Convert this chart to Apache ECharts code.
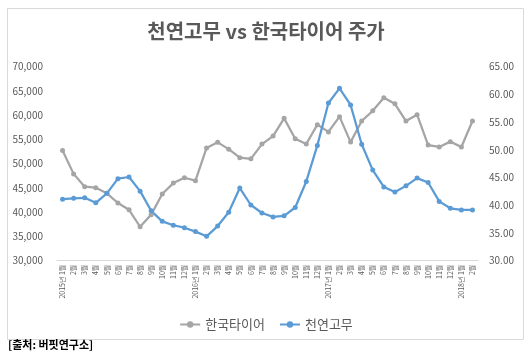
<!DOCTYPE html>
<html><head><meta charset="utf-8">
<script src="https://cdn.jsdelivr.net/npm/echarts@6/dist/echarts.min.js"></script>
<style>html,body{margin:0;padding:0;background:#fff}#c{width:532px;height:355px}</style>
</head><body><div id="c"></div>
<script>
var categories = ['2015년 1월','2월','3월','4월','5월','6월','7월','8월','9월','10월','11월','12월',
  '2016년 1월','2월','3월','4월','5월','6월','7월','8월','9월','10월','11월','12월',
  '2017년 1월','2월','3월','4월','5월','6월','7월','8월','9월','10월','11월','12월',
  '2018년 1월','2월'];
var hankookTire = [52700,47900,45250,45050,43900,41900,40500,37000,39500,43750,46000,47100,
  46500,53250,54400,53000,51250,51000,54050,55700,59350,55150,54050,58050,
  56550,59700,54450,58800,60900,63600,62350,58800,60100,53850,53450,54550,53450,58800];
var naturalRubber = [41.1,41.25,41.35,40.45,42.15,44.8,45.1,42.55,39.0,37.1,36.4,35.95,
  35.25,34.4,36.25,38.75,43.1,40.05,38.6,37.9,38.1,39.6,44.3,50.8,
  58.45,61.1,58.1,51.0,46.35,43.3,42.4,43.5,44.9,44.1,40.7,39.45,39.15,39.15];
var leftTicks = {min:30000, max:70000, interval:5000};
var rightTicks = {min:30, max:65, interval:5};

var font = '"Noto Sans CJK KR", "Noto Sans", sans-serif';
var chart = echarts.init(document.getElementById('c'), null, {renderer:'canvas'});
chart.setOption({
  animation:false,
  textStyle:{fontFamily:font},
  title:{text:'천연고무 vs 한국타이어 주가', left:'center', top:16,
    textStyle:{fontFamily:font, fontSize:20, fontWeight:'bold', color:'#595959'}},
  graphic:[
    {type:'rect', shape:{x:7.5,y:8.5,width:516,height:331}, style:{fill:'none', stroke:'#D9D9D9', lineWidth:1}, silent:true},
    {type:'text', left:8, top:339, style:{text:'[출처: 버핏연구소]', font:'bold 11px '+font, fill:'#000'}}
  ],
  legend:{data:['한국타이어','천연고무'], left:'center', top:313, itemWidth:20, itemHeight:8, itemGap:14,
    textStyle:{fontFamily:font, fontSize:13, color:'#595959'}},
  grid:{left:57, right:54, top:66.7, bottom:94.3, containLabel:false},
  xAxis:{type:'category', data:categories, boundaryGap:true,
    axisLine:{lineStyle:{color:'#D9D9D9'}}, axisTick:{show:false},
    axisLabel:{interval:0, rotate:90, fontSize:7, color:'#595959', margin:4, fontFamily:font}},
  yAxis:[
    {type:'value', min:leftTicks.min, max:leftTicks.max, interval:leftTicks.interval, position:'left',
     splitLine:{show:false}, axisLine:{show:false}, axisTick:{show:false},
     axisLabel:{color:'#595959', fontSize:10, margin:14, fontFamily:font,
       formatter:function(v){return v.toLocaleString('en-US');}}},
    {type:'value', min:rightTicks.min, max:rightTicks.max, interval:rightTicks.interval, position:'right',
     splitLine:{show:false}, axisLine:{show:false}, axisTick:{show:false},
     axisLabel:{color:'#595959', fontSize:10, margin:11, fontFamily:font,
       formatter:function(v){return v.toFixed(2);}}}
  ],
  series:[
    {name:'한국타이어', type:'line', yAxisIndex:0, data:hankookTire, symbol:'circle', symbolSize:5,
     lineStyle:{color:'#A5A5A5', width:2.25}, itemStyle:{color:'#A5A5A5'}},
    {name:'천연고무', type:'line', yAxisIndex:1, data:naturalRubber, symbol:'circle', symbolSize:5,
     lineStyle:{color:'#5B9BD5', width:2.25}, itemStyle:{color:'#5B9BD5'}}
  ]
});
</script></body></html>
